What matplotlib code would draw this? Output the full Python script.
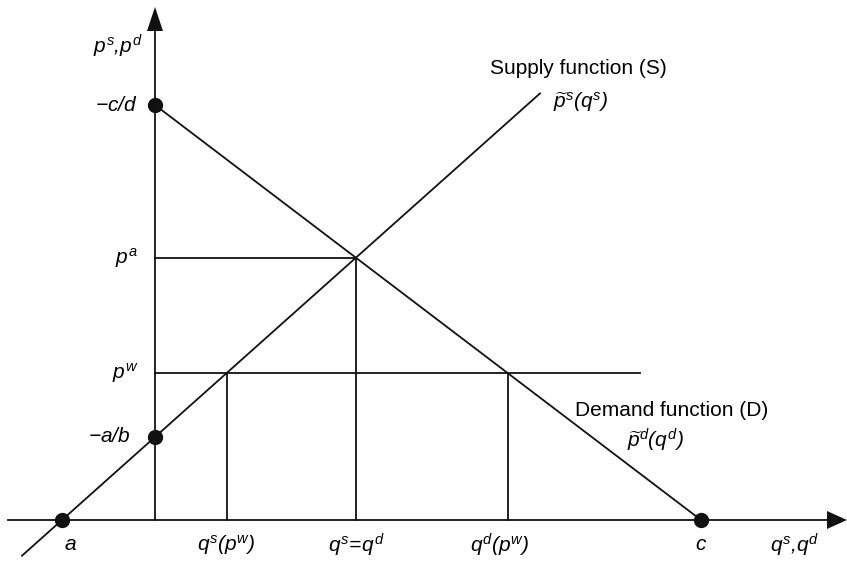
import matplotlib
matplotlib.use("Agg")
import matplotlib.pyplot as plt
import numpy as np

plt.rcParams['font.family'] = ['Liberation Sans', 'DejaVu Sans']
plt.rcParams['mathtext.fontset'] = 'custom'
plt.rcParams['mathtext.rm'] = 'Liberation Sans:italic'
plt.rcParams['mathtext.it'] = 'Liberation Sans:italic'
plt.rcParams['mathtext.default'] = 'it'

# Model quantities (quantity on x, price on y; origin at the axes crossing)
a_q = -93          # supply function meets the quantity axis
c_q = 546          # demand function meets the quantity axis
neg_a_b = 83       # supply intercept on the price axis
neg_c_d = 415      # demand intercept on the price axis
p_world = 147      # world price p^w

supply_slope = (neg_a_b - 0) / (0 - a_q)
demand_slope = (0 - neg_c_d) / (c_q - 0)

def supply(q):
    return neg_a_b + supply_slope * q

def demand(q):
    return neg_c_d + demand_slope * q

q_autarky = (neg_c_d - neg_a_b) / (supply_slope - demand_slope)
p_autarky = supply(q_autarky)
qs_world = (p_world - neg_a_b) / supply_slope
qd_world = (p_world - neg_c_d) / demand_slope

supply_q = np.array([-133, 385])
demand_q = np.array([0, c_q])
pw_line_end = 485

fig = plt.figure(figsize=(8.47, 5.61), dpi=100)
ax = fig.add_axes([0, 0, 1, 1])
ax.set_xlim(-155, 692)
ax.set_ylim(-41, 520)
ax.axis('off')

lw = 1.3
k = '#111111'

# Axes with arrowheads
ax.plot([-147, 675], [0, 0], color=k, lw=lw)
ax.plot([0, 0], [0, 492], color=k, lw=lw)
ax.fill([672, 692, 672], [-9, 0, 9], color=k, lw=0)
ax.fill([-8, 0, 8], [489, 513, 489], color=k, lw=0)

# Supply and demand functions
ax.plot(supply_q, supply(supply_q), color=k, lw=lw)
ax.plot(demand_q, demand(demand_q), color=k, lw=lw)

# Autarky price and quantity
ax.plot([0, q_autarky], [p_autarky, p_autarky], color=k, lw=lw)
ax.plot([q_autarky, q_autarky], [0, p_autarky], color=k, lw=lw)

# World price and resulting quantities
ax.plot([0, pw_line_end], [p_world, p_world], color=k, lw=lw)
ax.plot([qs_world, qs_world], [0, p_world], color=k, lw=lw)
ax.plot([qd_world, qd_world], [0, p_world], color=k, lw=lw)

# Intercept points
ax.plot([a_q, c_q, 0, 0], [0, 0, neg_a_b, neg_c_d], 'o', color=k, ms=10)

fs = 15
# Price-axis labels
ax.text(-12, 474, r'$p^s{,}p^d$', ha='right', va='center', fontsize=fs)
ax.text(-17, neg_c_d, r'$-c/d$', ha='right', va='center', fontsize=fs)
ax.text(-17, p_autarky, r'$p^a$', ha='right', va='center', fontsize=fs)
ax.text(-17, p_world, r'$p^w$', ha='right', va='center', fontsize=fs)
ax.text(-24, neg_a_b, r'$-a/b$', ha='right', va='center', fontsize=fs)

# Quantity-axis labels
yq = -25
ax.text(a_q + 8, yq, r'$a$', ha='center', va='center', fontsize=fs)
ax.text(qs_world, yq, r'$q^s(p^w)$', ha='center', va='center', fontsize=fs)
ax.text(q_autarky, yq, r'$q^s\!=\!q^d$', ha='center', va='center', fontsize=fs)
ax.text(qd_world - 8, yq, r'$q^d(p^w)$', ha='center', va='center', fontsize=fs)
ax.text(c_q, yq, r'$c$', ha='center', va='center', fontsize=fs)
ax.text(640, yq, r'$q^s{,}q^d$', ha='center', va='center', fontsize=fs)

# Function labels
ax.text(335, 452, 'Supply function (S)', ha='left', va='center', fontsize=fs)
ax.text(398, 418, r'$\widetilde{p}^s(q^s)$', ha='left', va='center', fontsize=fs)
ax.text(420, 110, 'Demand function (D)', ha='left', va='center', fontsize=fs)
ax.text(472, 80, r'$\widetilde{p}^d(q^d)$', ha='left', va='center', fontsize=fs)

fig.savefig('out.png', dpi=100)
